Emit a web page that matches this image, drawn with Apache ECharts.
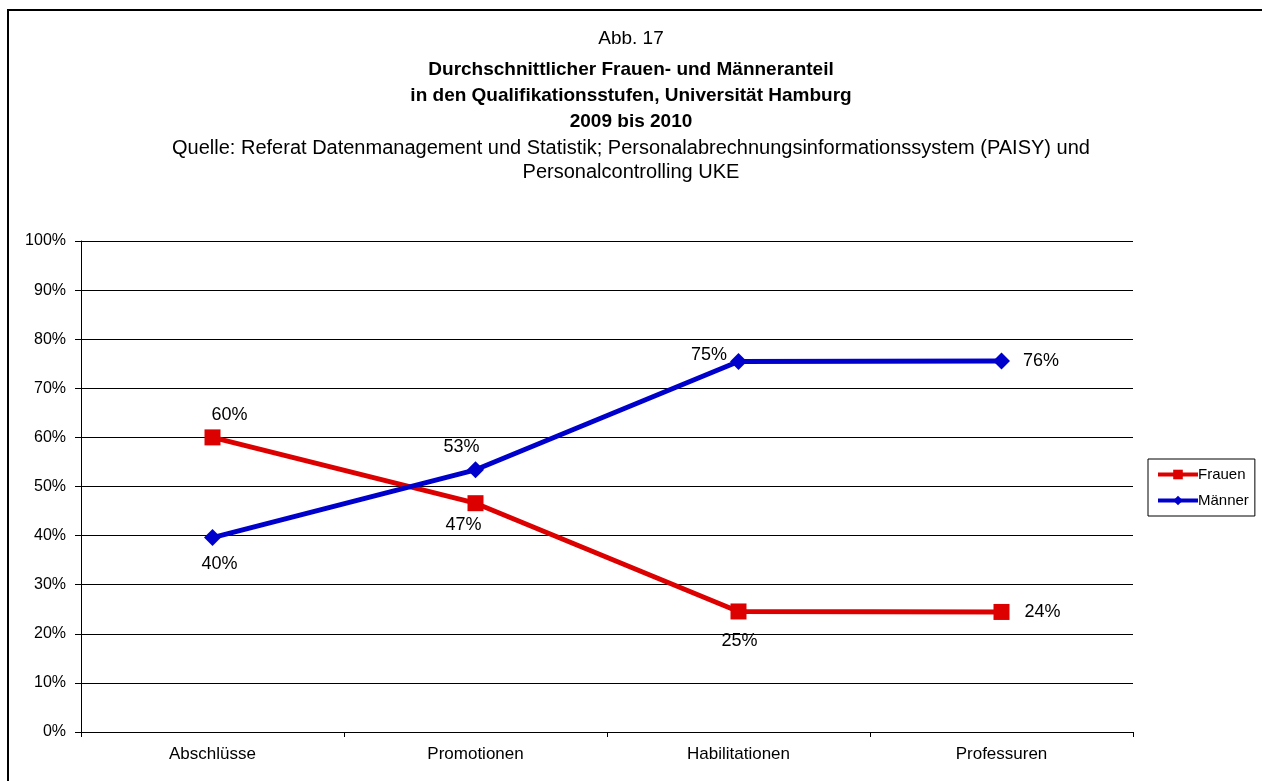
<!DOCTYPE html>
<html>
<head>
	<meta charset="utf-8">
	<title>Abb. 17</title>
	<script src="https://cdn.jsdelivr.net/npm/echarts@6.0.0/dist/echarts.min.js"></script>
	<style>
		html, body { margin: 0; padding: 0; background: #fff; }
		#chart { width: 1262px; height: 781px; }
	</style>
</head>
<body>
	<div id="chart"></div>
	<script>
		var categories = ['Abschlüsse', 'Promotionen', 'Habilitationen', 'Professuren'];
		var frauen = [60.0, 46.6, 24.55, 24.45];
		var maenner = [39.6, 53.4, 75.45, 75.55];
		var yTicks = [0, 10, 20, 30, 40, 50, 60, 70, 80, 90, 100];

		// label placement per point, as in the original
		var frauenPos = [['top', [17, 0]], ['bottom', [-12, 0]], ['bottom', [1, 8]], ['right', [10, 0]]];
		var maennerPos = [['bottom', [7, 4]], ['top', [-14, 0]], ['left', [2, -7]], ['right', [8, 0]]];

		var font = 'Liberation Sans, Arial, sans-serif';

		function withLabels(values, pos) {
			return values.map(function (v, i) {
				return {
					value: v,
					label: { position: pos[i][0], offset: pos[i][1] }
				};
			});
		}

		function titleLine(text, top, bold, size) {
			return {
				text: text, left: 'center', top: top,
				textStyle: { fontSize: size, fontWeight: bold ? 'bold' : 'normal', color: '#000', fontFamily: font }
			};
		}

		var chart = echarts.init(document.getElementById('chart'));
		var option = {
			backgroundColor: '#fff',
			animation: false,
			textStyle: { fontFamily: font },
			graphic: [{
				type: 'rect',
				shape: { x: 8, y: 10, width: 1262, height: 780 },
				style: { fill: 'none', stroke: '#000', lineWidth: 2 }
			}],
			title: [
				titleLine('Abb. 17', 24, false, 19),
				titleLine('Durchschnittlicher Frauen- und Männeranteil', 55, true, 19),
				titleLine('in den Qualifikationsstufen, Universität Hamburg', 81, true, 19),
				titleLine('2009 bis 2010', 107, true, 19),
				titleLine('Quelle: Referat Datenmanagement und Statistik; Personalabrechnungsinformationssystem (PAISY) und', 133, false, 20),
				titleLine('Personalcontrolling UKE', 157, false, 20)
			],
			legend: {
				orient: 'vertical',
				left: 1148,
				top: 459,
				itemWidth: 40,
				itemHeight: 12,
				itemGap: 11,
				padding: [8, 6, 8, 8],
				borderColor: '#000',
				borderWidth: 1,
				lineStyle: { width: 4 },
				textStyle: { fontSize: 15, color: '#000', fontFamily: font, padding: [0, 0, 0, -5] },
				data: ['Frauen', 'Männer']
			},
			grid: { left: 81, right: 129, top: 241, bottom: 49 },
			xAxis: {
				type: 'category',
				data: categories,
				boundaryGap: true,
				axisLine: { lineStyle: { color: '#000', width: 1 } },
				axisTick: { show: true, length: 5, lineStyle: { color: '#000' } },
				axisLabel: { color: '#000', fontSize: 17, margin: 14, fontFamily: font }
			},
			yAxis: {
				type: 'value',
				min: yTicks[0],
				max: yTicks[yTicks.length - 1],
				interval: 10,
				axisLine: { show: true, lineStyle: { color: '#000', width: 1 } },
				axisTick: { show: true, length: 6, lineStyle: { color: '#000' } },
				axisLabel: { color: '#000', fontSize: 16, margin: 15, fontFamily: font,
					formatter: function (v) { return v + '%'; } },
				splitLine: { lineStyle: { color: '#000', width: 1 } }
			},
			series: [{
				name: 'Frauen',
				type: 'line',
				data: withLabels(frauen, frauenPos),
				symbol: 'rect',
				symbolSize: 16,
				color: '#dd0000',
				lineStyle: { width: 5, color: '#dd0000' },
				itemStyle: { color: '#dd0000' },
				label: {
					show: true, fontSize: 18, color: '#000', fontFamily: font,
					formatter: function (p) { return Math.round(p.value) + '%'; }
				}
			}, {
				name: 'Männer',
				type: 'line',
				data: withLabels(maenner, maennerPos),
				symbol: 'diamond',
				symbolSize: 17,
				color: '#0000cc',
				lineStyle: { width: 5, color: '#0000cc' },
				itemStyle: { color: '#0000cc' },
				label: {
					show: true, fontSize: 18, color: '#000', fontFamily: font,
					formatter: function (p) { return Math.round(p.value) + '%'; }
				}
			}]
		};
		chart.setOption(option);
	</script>
</body>
</html>
